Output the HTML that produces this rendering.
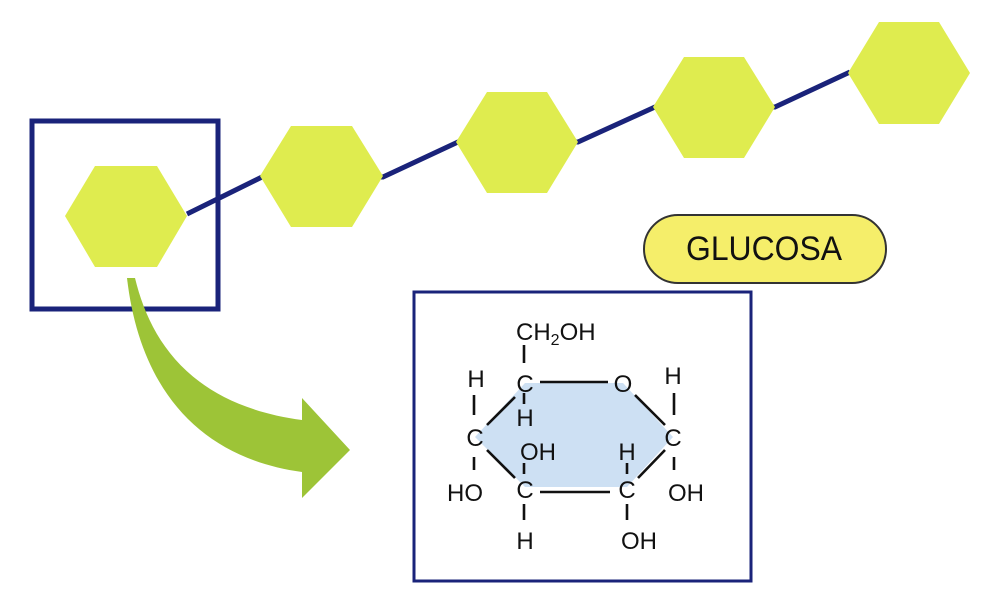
<!DOCTYPE html>
<html><head><style>html,body{margin:0;padding:0;background:#fff}svg{display:block}</style></head>
<body>
<svg width="1003" height="594" viewBox="0 0 1003 594" xmlns="http://www.w3.org/2000/svg" font-family="Liberation Sans, sans-serif">
<rect width="1003" height="594" fill="#fff"/>
<polyline points="187,214 262,177 383,177 458,142 578,142 655,107 775,107 850,72" fill="none" stroke="#1a237a" stroke-width="5"/>
<g fill="#dfec4f">
<polygon points="65,216 95,166 157,166 187,216 157,267 95,267"/>
<polygon points="260,176 291,126 352,126 383,176 352,227 291,227"/>
<polygon points="456,142 487,92 547,92 578,142 547,193 487,193"/>
<polygon points="653,107 684,57 744,57 775,107 744,158 684,158"/>
<polygon points="848,73 879,22 939,22 970,73 939,124 879,124"/>
</g>
<rect x="32" y="121" width="186" height="188" fill="none" stroke="#1a237a" stroke-width="5"/>
<path d="M127,278 L135,278 C150,340 190,405 302,420 L302,398 L350,450 L302,498 L302,472 C200,458 140,390 127,278 Z" fill="#9dc437"/>
<rect x="644" y="215" width="242" height="68" rx="34" fill="#f5ee6a" stroke="#333" stroke-width="2"/>
<text x="686" y="260" font-size="34" textLength="156" lengthAdjust="spacingAndGlyphs" fill="#111">GLUCOSA</text>
<rect x="414" y="292" width="337" height="289" fill="#fff" stroke="#1a237a" stroke-width="3"/>
<polygon points="525,383 623,383 673,437 627,487 525,487 475,437" fill="#cde0f3"/>
<g stroke="#111" stroke-width="2.6" fill="none">
<line x1="540" y1="382" x2="608" y2="382"/>
<line x1="635" y1="395" x2="665" y2="425"/>
<line x1="665" y1="450" x2="638" y2="478"/>
<line x1="540" y1="492" x2="610" y2="492"/>
<line x1="515" y1="478" x2="487" y2="450"/>
<line x1="487" y1="425" x2="515" y2="397"/>
<line x1="524" y1="345" x2="524" y2="363"/>
<line x1="474" y1="395" x2="474" y2="415"/>
<line x1="474" y1="457" x2="474" y2="470"/>
<line x1="674" y1="393" x2="674" y2="415"/>
<line x1="674" y1="457" x2="674" y2="470"/>
<line x1="524" y1="504" x2="524" y2="520"/>
<line x1="627" y1="504" x2="627" y2="520"/>
<line x1="524" y1="393" x2="524" y2="404"/>
<line x1="524" y1="463" x2="524" y2="474"/>
<line x1="627" y1="463" x2="627" y2="474"/>
</g>
<g font-size="24" fill="#111" text-anchor="middle">
<text x="516" y="340" text-anchor="start">CH<tspan font-size="16" dy="5">2</tspan><tspan dy="-5">OH</tspan></text>
<text x="525" y="392">C</text>
<text x="623" y="392">O</text>
<text x="475" y="446">C</text>
<text x="673" y="446">C</text>
<text x="525" y="498">C</text>
<text x="627" y="498">C</text>
<text x="476" y="387">H</text>
<text x="673" y="384">H</text>
<text x="525" y="426">H</text>
<text x="538" y="460">OH</text>
<text x="627" y="460">H</text>
<text x="465" y="501">HO</text>
<text x="686" y="501">OH</text>
<text x="525" y="549">H</text>
<text x="639" y="549">OH</text>
</g>
</svg>
</body></html>
